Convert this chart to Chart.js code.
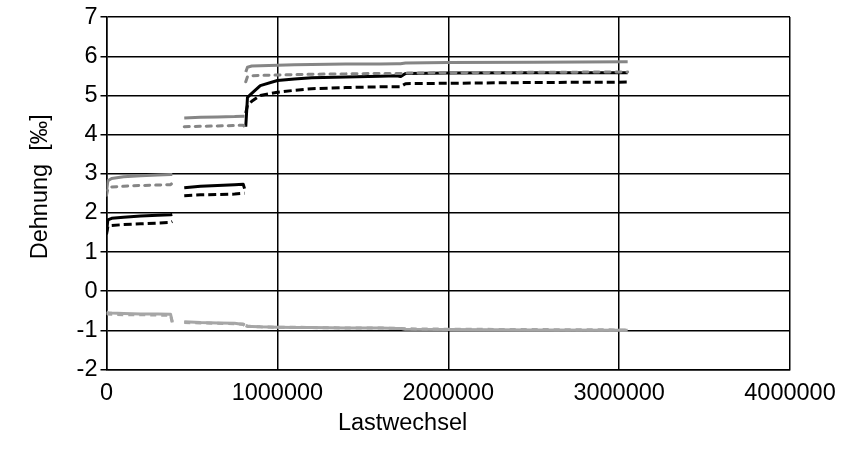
<!DOCTYPE html>
<html>
<head>
<meta charset="utf-8">
<script src="https://cdn.jsdelivr.net/npm/chart.js@4.4.0/dist/chart.umd.min.js"></script>
<style>
html,body{margin:0;padding:0;background:#fff;}
canvas{display:block;}
</style>
</head>
<body>
<canvas id="c" width="856" height="454"></canvas>
<script>
// Lastwechsel (load cycles); null entries separate the three test segments
const lastwechsel = [0, 8000, 30000, 100000, 200000, 300000, 375000, 385000, 420000,
  455000, 550000, 650000, 750000, 800000, 808000, 811000,
  815000, 825000, 850000, 900000, 1000000, 1100000, 1200000, 1400000, 1600000, 1700000, 1720000, 1750000, 2000000, 2500000, 3050000];

const grauDurchgezogen = [2.55, 2.82, 2.88, 2.92, 2.95, 2.97, 2.98, 2.98, null,
  4.42, 4.44, 4.45, 4.46, 4.47, 4.47, null,
  5.6, 5.72, 5.75, 5.76, 5.77, 5.78, 5.79, 5.8, 5.8, 5.81, 5.81, 5.83, 5.84, 5.85, 5.86];

const grauGestrichelt = [2.45, 2.62, 2.66, 2.68, 2.7, 2.71, 2.72, 2.76, null,
  4.2, 4.21, 4.22, 4.23, 4.24, 4.2, null,
  5.35, 5.48, 5.5, 5.51, 5.52, 5.53, 5.54, 5.55, 5.56, 5.56, 5.56, 5.57, 5.58, 5.59, 5.6];

const schwarzDurchgezogen = [1.5, 1.82, 1.86, 1.89, 1.92, 1.94, 1.95, 1.96, null,
  2.64, 2.68, 2.7, 2.72, 2.73, 2.62, null,
  4.2, 4.95, 5.05, 5.25, 5.38, 5.42, 5.45, 5.47, 5.49, 5.5, 5.48, 5.56, 5.57, 5.58, 5.58];

const schwarzGestrichelt = [1.45, 1.65, 1.68, 1.7, 1.72, 1.74, 1.76, 1.78, null,
  2.44, 2.46, 2.47, 2.48, 2.5, 2.5, null,
  4.55, 4.75, 4.85, 5.0, 5.08, 5.13, 5.17, 5.2, 5.22, 5.22, 5.22, 5.3, 5.31, 5.33, 5.34];

const hellDurchgezogen = [-0.52, -0.55, -0.56, -0.57, -0.58, -0.58, -0.59, -0.78, null,
  -0.78, -0.8, -0.81, -0.82, -0.85, -0.88, null,
  -0.88, -0.9, -0.9, -0.91, -0.92, -0.93, -0.93, -0.94, -0.94, -0.95, -0.95, -0.97, -0.98, -0.99, -1.0];

const hellGestrichelt = [-0.56, -0.58, -0.59, -0.6, -0.6, -0.61, -0.62, -0.8, null,
  -0.8, -0.81, -0.82, -0.83, -0.84, -0.86, null,
  -0.88, -0.89, -0.9, -0.91, -0.92, -0.92, -0.93, -0.94, -0.94, -0.95, -0.95, -0.96, -0.97, -0.98, -0.99];

const yTicks = [-2, -1, 0, 1, 2, 3, 4, 5, 6, 7];
const xTicks = [0, 1000000, 2000000, 3000000, 4000000];

function pts(ys) {
  return lastwechsel.map((x, i) => ({x: x, y: ys[i]}));
}

const FONT = 'Liberation Sans, Arial, sans-serif';
const FS = 23.5;

function ds(label, ys, color, dash, cap) {
  return {
    label: label,
    data: pts(ys),
    borderColor: color,
    backgroundColor: color,
    borderWidth: 3,
    borderDash: dash,
    borderCapStyle: cap,
    borderJoinStyle: 'round',
    pointRadius: 0,
    tension: 0,
    spanGaps: false,
    fill: false
  };
}

new Chart(document.getElementById('c'), {
  type: 'line',
  data: {
    datasets: [
      ds('hell durchgezogen', hellDurchgezogen, '#a6a6a6', [], 'butt'),
      ds('hell gestrichelt', hellGestrichelt, '#a6a6a6', [6, 5], 'butt'),
      ds('grau durchgezogen', grauDurchgezogen, '#868686', [], 'butt'),
      ds('grau gestrichelt', grauGestrichelt, '#868686', [5, 6], 'round'),
      ds('schwarz durchgezogen', schwarzDurchgezogen, '#000000', [], 'butt'),
      ds('schwarz gestrichelt', schwarzGestrichelt, '#000000', [8, 4], 'butt')
    ]
  },
  options: {
    responsive: false,
    animation: false,
    devicePixelRatio: 1,
    layout: {padding: {top: 17, right: 66, left: 0, bottom: 0}},
    plugins: {legend: {display: false}, tooltip: {enabled: false}},
    scales: {
      x: {
        type: 'linear',
        min: 0,
        max: 4000000,
        afterBuildTicks: s => { s.ticks = xTicks.map(v => ({value: v})); },
        afterFit: s => { s.height = 84.5; },
        grid: {color: '#000', lineWidth: 1.5, drawTicks: false},
        border: {color: '#000', width: 1.5},
        ticks: {
          padding: 10,
          color: '#000',
          font: {family: FONT, size: FS},
          maxRotation: 0,
          callback: v => String(v)
        },
        title: {display: true, text: 'Lastwechsel              ', color: '#000', font: {family: FONT, size: FS}, padding: {top: 0, bottom: 16}}
      },
      y: {
        type: 'linear',
        min: -2,
        max: 7,
        afterBuildTicks: s => { s.ticks = yTicks.map(v => ({value: v})); },
        afterFit: s => { s.width = 106.5; },
        grid: {color: '#000', lineWidth: 1.5, drawTicks: true, tickLength: 6},
        border: {color: '#000', width: 1.5},
        ticks: {
          padding: 3,
          color: '#000',
          font: {family: FONT, size: FS},
          callback: v => String(v)
        },
        title: {display: true, text: '  Dehnung  [‰]', color: '#000', font: {family: FONT, size: FS}, padding: {top: 26, bottom: 0}}
      }
    }
  }
});
</script>
</body>
</html>
